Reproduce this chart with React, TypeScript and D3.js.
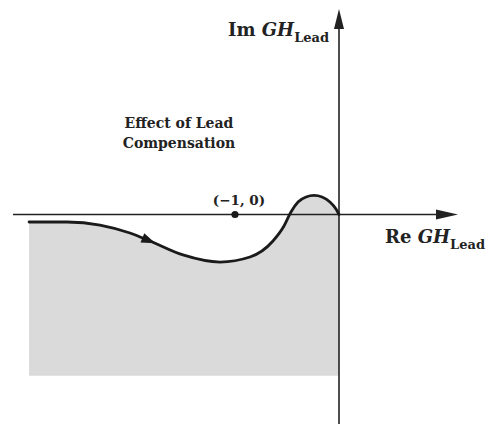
import React, { useEffect, useRef } from "react";
import * as d3 from "d3";

// Nyquist locus of lead-compensated GH (Re, Im)
const locusRe = [-2.98, -2.615, -2.298, -2.01, -1.817, -1.5, -1.144, -0.856, -0.635, -0.529, -0.462, -0.394, -0.317, -0.24, -0.163, -0.087, -0.029, 0];
const locusIm = [-0.072, -0.072, -0.101, -0.178, -0.255, -0.389, -0.457, -0.409, -0.255, -0.111, 0.024, 0.12, 0.168, 0.183, 0.168, 0.12, 0.053, 0];
const criticalPoint = [-1, 0];
const criticalLabel = "(\u22121, 0)";
const titleLines = ["Effect of Lead", "Compensation"];
const shadeBottomIm = -1.55;
const arrowAtRe = -1.82;

const W = 499;
const H = 424;

export default function App() {
  const ref = useRef<SVGSVGElement>(null);
  useEffect(() => {
    const svg = d3.select(ref.current);
    svg.selectAll("*").remove();
    const unit = 104;
    const x = d3.scaleLinear().domain([0, 1]).range([339, 339 + unit]);
    const y = d3.scaleLinear().domain([0, 1]).range([214.5, 214.5 - unit]);
    const pts: [number, number][] = locusRe.map((r, i) => [r, locusIm[i]]);
    const curve = d3.curveMonotoneX;

    const area = d3
      .area<[number, number]>()
      .x((d) => x(d[0]))
      .y0(y(shadeBottomIm))
      .y1((d) => y(d[1]))
      .curve(curve);
    svg.append("path").attr("d", area(pts)).attr("fill", "#dadada");

    // axes
    const axisColor = "#222";
    svg.append("line").attr("x1", 13).attr("x2", 445).attr("y1", y(0)).attr("y2", y(0))
      .attr("stroke", axisColor).attr("stroke-width", 1.6);
    svg.append("path").attr("d", `M458,${y(0)} L436,${y(0) - 5} L436,${y(0) + 5} Z`).attr("fill", axisColor);
    svg.append("line").attr("x1", x(0)).attr("x2", x(0)).attr("y1", 22).attr("y2", H)
      .attr("stroke", axisColor).attr("stroke-width", 1.6);
    svg.append("path").attr("d", `M${x(0)},9 L${x(0) - 5},29 L${x(0) + 5},29 Z`).attr("fill", axisColor);

    const line = d3.line<[number, number]>().x((d) => x(d[0])).y((d) => y(d[1])).curve(curve);
    const path = svg.append("path").attr("d", line(pts)).attr("fill", "none")
      .attr("stroke", "#1a1a1a").attr("stroke-width", 2.8).attr("stroke-linecap", "round");

    // direction arrow on locus
    const node = path.node() as SVGPathElement;
    const total = node.getTotalLength();
    const tx = x(arrowAtRe);
    let best = 0, bd = 1e9;
    for (let l = 0; l <= total; l += 0.5) {
      const p = node.getPointAtLength(l);
      const dd = Math.abs(p.x - tx);
      if (dd < bd) { bd = dd; best = l; }
    }
    const p0 = node.getPointAtLength(best - 3);
    const p1 = node.getPointAtLength(best + 3);
    const ang = (Math.atan2(p1.y - p0.y, p1.x - p0.x) * 180) / Math.PI;
    const pc = node.getPointAtLength(best);
    svg.append("path").attr("d", "M6,0 L-8,-5 L-8,5 Z").attr("fill", "#1a1a1a")
      .attr("transform", `translate(${pc.x},${pc.y}) rotate(${ang})`);

    // critical point
    svg.append("circle").attr("cx", x(criticalPoint[0])).attr("cy", y(criticalPoint[1])).attr("r", 3.6).attr("fill", "#1a1a1a");
    svg.append("text").attr("x", x(criticalPoint[0]) + 4).attr("y", 205).attr("text-anchor", "middle")
      .attr("font-family", "DejaVu Serif").attr("font-weight", "bold").attr("font-size", 13.5).attr("fill", "#222")
      .text(criticalLabel);

    // annotation
    titleLines.forEach((t, i) => {
      svg.append("text").attr("x", 179).attr("y", 128 + i * 20).attr("text-anchor", "middle")
        .attr("font-family", "DejaVu Serif").attr("font-weight", "bold").attr("font-size", 14).attr("fill", "#222")
        .text(t);
    });

    // axis labels
    const label = (lx: number, ly: number, pre: string) => {
      const t = svg.append("text").attr("x", lx).attr("y", ly)
        .attr("font-family", "DejaVu Serif").attr("fill", "#222").attr("font-size", 18);
      t.append("tspan").attr("font-weight", "bold").text(pre + " ");
      t.append("tspan").attr("font-style", "italic").attr("font-weight", "bold").text("GH");
      t.append("tspan").attr("font-weight", "bold").attr("font-size", 13).attr("dy", 6).text("Lead");
    };
    label(228, 36, "Im");
    label(385, 243, "Re");
  }, []);
  return (
    <svg ref={ref} width={W} height={H} style={{ position: "absolute", left: 0, top: 0, background: "#fff" }} />
  );
}
